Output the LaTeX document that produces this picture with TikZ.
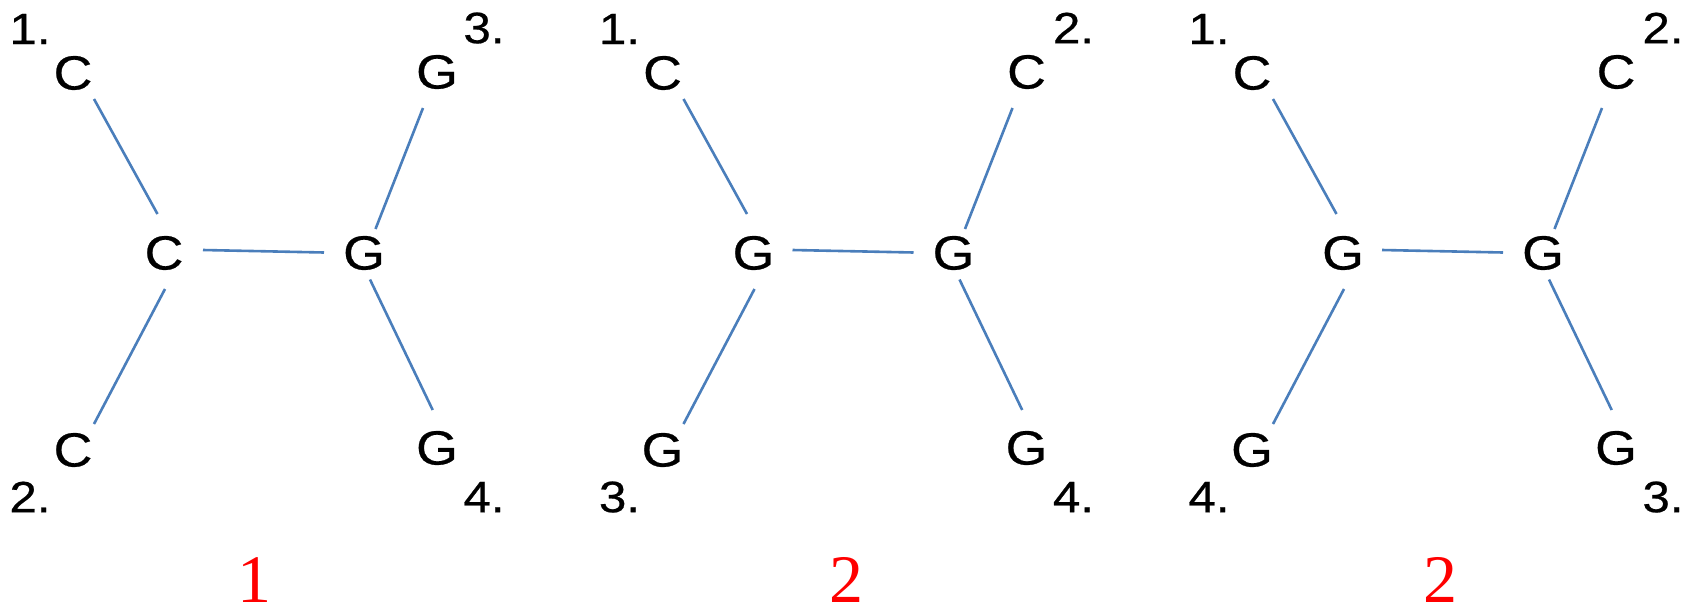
\documentclass[tikz,border=0pt]{standalone}
\usepackage{fontspec}
\usepackage{graphicx}
\setmainfont[FakeBold=0.5]{Liberation Sans}
\newfontfamily\serifnum{Liberation Serif}
\usetikzlibrary{calc}
\definecolor{bondblue}{RGB}{74,126,187}
\newcommand\stretchtxt[1]{\scalebox{1.12}[1]{#1}}
\tikzset{
  atom/.style={inner sep=0pt, font=\fontsize{48}{48}\selectfont},
  numlab/.style={inner sep=0pt, font=\fontsize{44}{44}\selectfont},
  score/.style={inner sep=0pt, anchor=base, text=red, font=\serifnum\fontsize{68}{68}\selectfont},
  bond/.style={draw=bondblue, line width=2.6pt},
}
\begin{document}
\begin{tikzpicture}[x=1pt,y=-1pt]
\useasboundingbox (0,0) rectangle (1692,611);
% ---------- panel 1 ----------
\node[atom] (atl) at (73,73) {\stretchtxt{C}};
\node[atom] (alc) at (164,253) {\stretchtxt{C}};
\node[atom] (arc) at (364,253) {\stretchtxt{G}};
\node[atom] (atr) at (437,72) {\stretchtxt{G}};
\node[atom] (abl) at (73,450) {\stretchtxt{C}};
\node[atom] (abr) at (437,448) {\stretchtxt{G}};
\node[numlab] (an1) at (30,29) {\stretchtxt{1.}};
\node[numlab] (an2) at (484,28) {\stretchtxt{3.}};
\node[numlab] (an3) at (30,497) {\stretchtxt{2.}};
\node[numlab] (an4) at (484,497) {\stretchtxt{4.}};
\node[score] (as) at (254,602) {1};
\draw[bond] ($(atl)+(21,26)$) -- ($(alc)+(-6.5,-39)$);
\draw[bond] ($(alc)+(1,36)$) -- ($(abl)+(21,-26)$);
\draw[bond] ($(alc)+(39,-3)$) -- ($(arc)+(-40,-0.5)$);
\draw[bond] ($(arc)+(11.5,-24)$) -- ($(atr)+(-14,36)$);
\draw[bond] ($(arc)+(6,26.5)$) -- ($(abr)+(-4.3,-38)$);
% ---------- panel 2 ----------
\begin{scope}[xshift=589.5]
\node[atom] (btl) at (73,73) {\stretchtxt{C}};
\node[atom] (blc) at (164,253) {\stretchtxt{G}};
\node[atom] (brc) at (364,253) {\stretchtxt{G}};
\node[atom] (btr) at (437,72) {\stretchtxt{C}};
\node[atom] (bbl) at (73,450) {\stretchtxt{G}};
\node[atom] (bbr) at (437,448) {\stretchtxt{G}};
\node[numlab] (bn1) at (30,29) {\stretchtxt{1.}};
\node[numlab] (bn2) at (484,28) {\stretchtxt{2.}};
\node[numlab] (bn3) at (30,497) {\stretchtxt{3.}};
\node[numlab] (bn4) at (484,497) {\stretchtxt{4.}};
\node[score] (bs) at (256.5,602) {2};
\draw[bond] ($(btl)+(21,26)$) -- ($(blc)+(-6.5,-39)$);
\draw[bond] ($(blc)+(1,36)$) -- ($(bbl)+(21,-26)$);
\draw[bond] ($(blc)+(39,-3)$) -- ($(brc)+(-40,-0.5)$);
\draw[bond] ($(brc)+(11.5,-24)$) -- ($(btr)+(-14,36)$);
\draw[bond] ($(brc)+(6,26.5)$) -- ($(bbr)+(-4.3,-38)$);
\end{scope}
% ---------- panel 3 ----------
\begin{scope}[xshift=1179]
\node[atom] (ctl) at (73,73) {\stretchtxt{C}};
\node[atom] (clc) at (164,253) {\stretchtxt{G}};
\node[atom] (crc) at (364,253) {\stretchtxt{G}};
\node[atom] (ctr) at (437,72) {\stretchtxt{C}};
\node[atom] (cbl) at (73,450) {\stretchtxt{G}};
\node[atom] (cbr) at (437,448) {\stretchtxt{G}};
\node[numlab] (cn1) at (30,29) {\stretchtxt{1.}};
\node[numlab] (cn2) at (484,28) {\stretchtxt{2.}};
\node[numlab] (cn3) at (30,497) {\stretchtxt{4.}};
\node[numlab] (cn4) at (484,497) {\stretchtxt{3.}};
\node[score] (cs) at (261,602) {2};
\draw[bond] ($(ctl)+(21,26)$) -- ($(clc)+(-6.5,-39)$);
\draw[bond] ($(clc)+(1,36)$) -- ($(cbl)+(21,-26)$);
\draw[bond] ($(clc)+(39,-3)$) -- ($(crc)+(-40,-0.5)$);
\draw[bond] ($(crc)+(11.5,-24)$) -- ($(ctr)+(-14,36)$);
\draw[bond] ($(crc)+(6,26.5)$) -- ($(cbr)+(-4.3,-38)$);
\end{scope}
\end{tikzpicture}
\end{document}
